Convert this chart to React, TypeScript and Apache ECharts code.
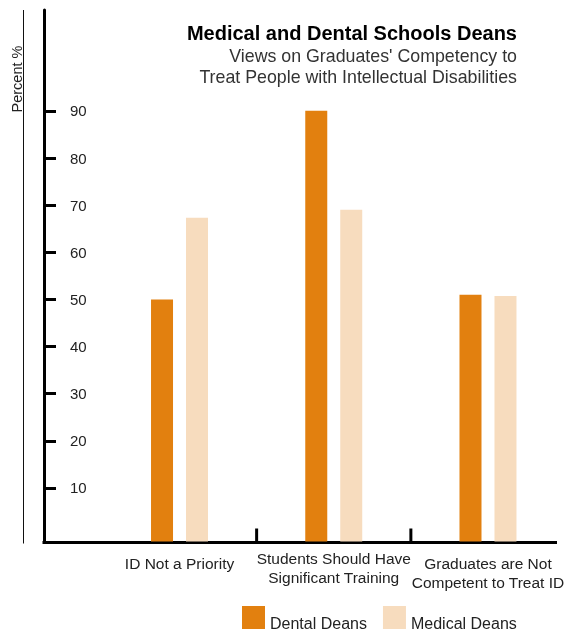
import React, { useEffect, useRef } from 'react';
import * as echarts from 'echarts';

const categories = [
  'ID Not a Priority',
  'Students Should Have\nSignificant Training',
  'Graduates are Not\nCompetent to Treat ID',
];
const dentalDeans = [50, 90, 51];
const medicalDeans = [67.3, 69, 50.7];
const yTicks = [10, 20, 30, 40, 50, 60, 70, 80, 90];
const seriesNames = ['Dental Deans', 'Medical Deans'];
const titleText = 'Medical and Dental Schools Deans';
const subtitleLines = ["Views on Graduates' Competency to", 'Treat People with Intellectual Disabilities'];
const yAxisName = 'Percent %';

const FONT = '"Liberation Sans", Arial, Helvetica, sans-serif';
const Y_MIN = -1.36;
const Y_MAX = 111.4;
const COLORS = ['#E2800F', '#F7DCBE'];

export default function App() {
  const ref = useRef<HTMLDivElement>(null);
  useEffect(() => {
    if (!ref.current) return;
    const chart = echarts.init(ref.current, undefined, { renderer: 'svg' });
    chart.setOption({
      animation: false,
      textStyle: { fontFamily: FONT },
      legend: {
        data: seriesNames,
        left: 237,
        top: 601,
        itemWidth: 23,
        itemHeight: 23,
        itemGap: 16,
        icon: 'rect',
        formatter: '{t|{name}}',
        textStyle: {
          fontSize: 16,
          color: '#222',
          fontFamily: FONT,
          rich: { t: { fontSize: 16, color: '#222', fontFamily: FONT, padding: [12, 0, 0, 0] } },
        },
      },
      grid: { left: 102.4, right: 6.9, top: 10, bottom: 91.5, containLabel: false },
      xAxis: {
        type: 'category',
        data: categories.map((c, i) => ({
          value: c,
          textStyle: i === 1 ? {} : { padding: [5, 0, 0, 0] },
        })),
        axisLine: { show: false },
        axisTick: { show: false },
        axisLabel: {
          margin: 7,
          fontSize: 15.5,
          lineHeight: 19,
          color: '#222',
          verticalAlign: 'top',
          fontFamily: FONT,
          interval: 0,
        },
        splitLine: { show: false },
      },
      yAxis: {
        type: 'value',
        min: Y_MIN,
        max: Y_MAX,
        startValue: Y_MIN,
        offset: 58.4,
        axisLine: { show: true, lineStyle: { color: '#000', width: 3 } },
        axisTick: { show: true, inside: true, length: 12, customValues: yTicks, lineStyle: { color: '#000', width: 3 } },
        axisLabel: { inside: true, margin: 26, customValues: yTicks, color: '#222', fontSize: 15, fontFamily: FONT },
        splitLine: { show: false },
      },
      series: [
        { name: seriesNames[0], type: 'bar', data: dentalDeans, barWidth: 22, barGap: '59%', itemStyle: { color: COLORS[0] } },
        { name: seriesNames[1], type: 'bar', data: medicalDeans, barWidth: 22, itemStyle: { color: COLORS[1] } },
      ],
    });

    const yBottom = chart.convertToPixel({ yAxisIndex: 0 }, Y_MIN) as number;
    const yTop = chart.convertToPixel({ yAxisIndex: 0 }, Y_MAX) as number;
    const cx = categories.map((c) => chart.convertToPixel({ xAxisIndex: 0 }, c) as number);
    const bounds = [(cx[0] + cx[1]) / 2, (cx[1] + cx[2]) / 2];
    const axisX = 44;
    const lineY = yBottom + 1;
    chart.setOption({
      graphic: [
        { type: 'line', shape: { x1: axisX - 1.5, y1: lineY, x2: 557, y2: lineY }, style: { stroke: '#000', lineWidth: 3 } },
        ...bounds.map((b) => ({
          type: 'line',
          shape: { x1: b, y1: lineY - 14, x2: b, y2: lineY },
          style: { stroke: '#000', lineWidth: 3 },
        })),
        { type: 'line', shape: { x1: 23.5, y1: yTop, x2: 23.5, y2: yBottom + 2 }, style: { stroke: '#111', lineWidth: 1 } },
        {
          type: 'text',
          x: 17,
          y: 79,
          rotation: Math.PI / 2,
          style: { text: yAxisName, fontSize: 14.5, fill: '#222', fontFamily: FONT, align: 'center', verticalAlign: 'middle' },
        },
        {
          type: 'text',
          x: 517,
          y: 33,
          style: { text: titleText, fontSize: 20, fontWeight: 'bold', fill: '#000', fontFamily: FONT, align: 'right', verticalAlign: 'middle' },
        },
        ...subtitleLines.map((t, i) => ({
          type: 'text',
          x: 517,
          y: 56 + i * 20.5,
          style: { text: t, fontSize: 17.8, fill: '#333', fontFamily: FONT, align: 'right', verticalAlign: 'middle' },
        })),
      ],
    });
    return () => chart.dispose();
  }, []);
  return <div ref={ref} style={{ position: 'fixed', left: 0, top: 0, width: 572, height: 633 }} />;
}
